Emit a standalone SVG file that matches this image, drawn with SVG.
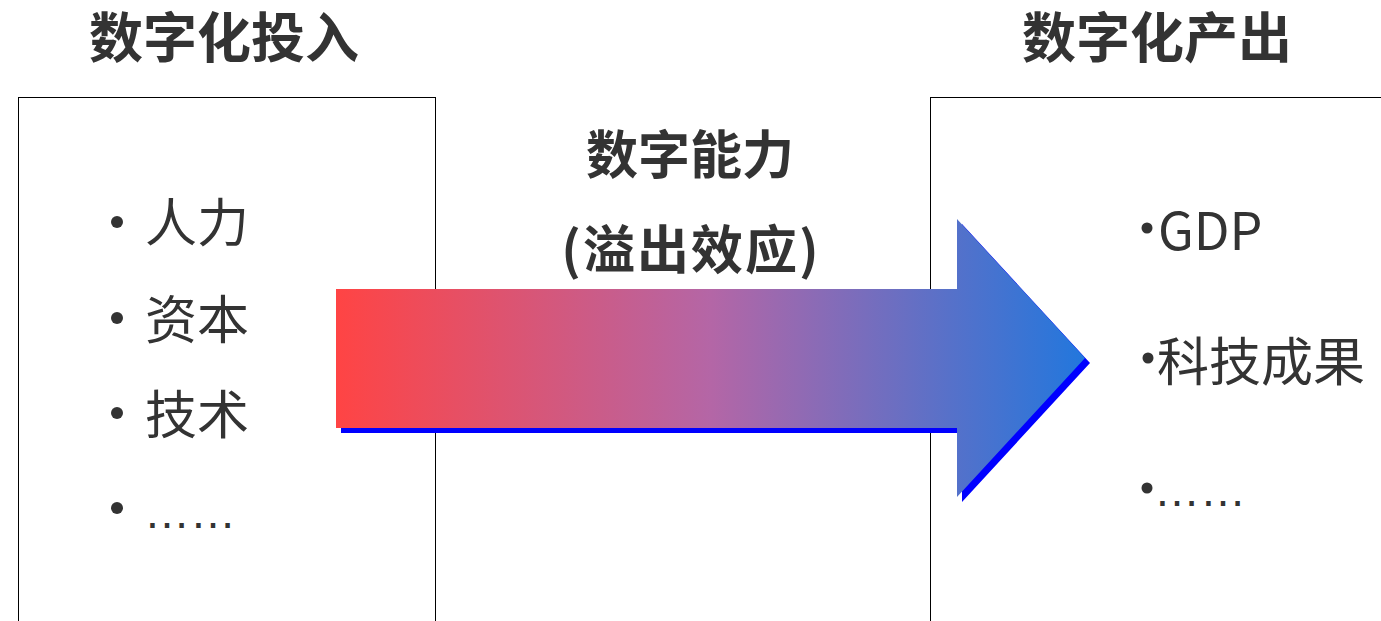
<svg xmlns="http://www.w3.org/2000/svg" width="1381" height="621" viewBox="0 0 1381 621">
<style>
.box{fill:#fff;stroke:#000;stroke-width:1}
.t{font-family:"Noto Sans CJK SC","Noto Sans",sans-serif;fill:#333}
.title{font-size:54px;font-weight:700}
.item{font-size:52px;font-weight:400}
.mid{font-size:52px;font-weight:700}
.dots{font-family:"Liberation Sans",Arial,sans-serif;font-size:46px;fill:#333}
.bullet{fill:#333}
</style>
<defs>
<linearGradient id="grad" gradientUnits="userSpaceOnUse" x1="336" y1="0" x2="1085" y2="0">
<stop offset="0" stop-color="#FF4444"/>
<stop offset="0.5" stop-color="#B466A6"/>
<stop offset="1" stop-color="#2277DD"/>
</linearGradient>
</defs>
<rect width="1381" height="621" fill="#fff"/>
<g id="input">
<text class="t title" x="224" y="58" text-anchor="middle">数字化投入</text>
<rect class="box" x="18.5" y="97.5" width="417" height="560"/>
<circle class="bullet" cx="117" cy="222" r="6"/>
<circle class="bullet" cx="117" cy="318" r="6"/>
<circle class="bullet" cx="117" cy="413" r="6"/>
<circle class="bullet" cx="117" cy="508" r="6"/>
<text class="t item" x="145" y="242">人力</text>
<text class="t item" x="145" y="339">资本</text>
<text class="t item" x="145" y="434">技术</text>
<text class="dots" x="144" y="528">……</text>
</g>
<g id="output">
<text class="t title" x="1157" y="58" text-anchor="middle">数字化产出</text>
<rect class="box" x="930.5" y="97.5" width="500" height="560"/>
<circle class="bullet" cx="1147" cy="228" r="5.5"/>
<circle class="bullet" cx="1148" cy="358" r="5.5"/>
<circle class="bullet" cx="1147" cy="488" r="5.5"/>
<text class="t item" x="1158" y="250">GDP</text>
<text class="t item" x="1157" y="381">科技成果</text>
<text class="dots" x="1154" y="506">……</text>
</g>
<g id="connectors">
<polygon points="341,294 962,294 962,224 1090,363 962,502 962,433 341,433" fill="#0000FF"/>
<polygon points="336,289 957,289 957,219 1085,358 957,497 957,428 336,428" fill="url(#grad)"/>
</g>
<g id="label">
<text class="t mid" x="690" y="174" text-anchor="middle">数字能力</text>
<text class="t mid" x="691" y="269" text-anchor="middle" letter-spacing="2">(溢出效应)</text>
</g>
</svg>
